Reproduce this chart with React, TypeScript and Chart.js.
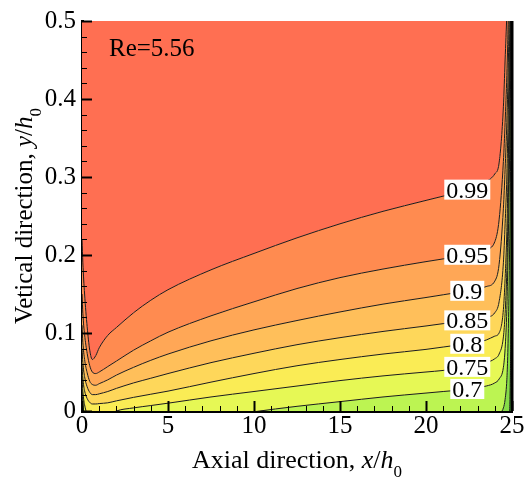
import React, { useEffect, useRef } from "react";
import { Chart, registerables } from "chart.js";

Chart.register(...registerables);

// Shared x grid (x/h0) for all contour lines
const X_GRID = [0, 0.05, 0.15, 0.3, 0.45, 0.6, 0.8, 1, 1.5, 2, 3, 4, 5, 7.5, 10, 12.5, 15, 17.5, 20, 21, 22, 23, 23.5, 24, 24.25, 24.5, 24.6, 24.7, 24.75, 24.8, 24.85, 24.9, 24.95, 25];

// Contour lines y/h0 for each level (values beyond 0.5 or below 0 lie outside the plot)
const Y_060 = [0.006, -0.01, -0.03, -0.04, -0.05, -0.05, -0.05, -0.05, -0.05, -0.05, -0.05, -0.05, -0.05, -0.05, -0.05, -0.05, -0.05, -0.05, -0.05, -0.05, -0.05, -0.05, -0.05, -0.05, -0.05, -0.05, -0.05, -0.05, -0.04, -0.03, -0.01, 0.04, 0.16, 0.55];
const Y_065 = [0.014, -0.002, -0.02, -0.03, -0.04, -0.045, -0.045, -0.045, -0.045, -0.045, -0.045, -0.045, -0.045, -0.04, -0.035, -0.03, -0.025, -0.02, -0.015, -0.013, -0.011, -0.01, -0.008, -0.005, -0.003, 0.004, 0.015, 0.04, 0.07, 0.12, 0.19, 0.28, 0.4, 0.55];
const Y_070 = [0.028, 0.01, -0.008, -0.02, -0.026, -0.029, -0.031, -0.032, -0.032, -0.031, -0.028, -0.023, -0.018, -0.009, -0.001, 0.006, 0.012, 0.018, 0.023, 0.025, 0.027, 0.03, 0.032, 0.036, 0.041, 0.056, 0.08, 0.13, 0.18, 0.24, 0.31, 0.39, 0.48, 0.55];
const Y_075 = [0.045, 0.025, 0.008, -0.004, -0.01, -0.012, -0.012, -0.011, -0.006, 0, 0.004, 0.007, 0.01, 0.018, 0.025, 0.032, 0.039, 0.045, 0.05, 0.052, 0.055, 0.059, 0.062, 0.067, 0.073, 0.095, 0.125, 0.18, 0.23, 0.29, 0.36, 0.44, 0.52, 0.55];
const Y_080 = [0.06, 0.042, 0.026, 0.016, 0.011, 0.009, 0.009, 0.0095, 0.0105, 0.013, 0.0175, 0.0215, 0.0255, 0.037, 0.048, 0.058, 0.066, 0.073, 0.079, 0.082, 0.085, 0.088, 0.091, 0.096, 0.1, 0.13, 0.17, 0.23, 0.28, 0.34, 0.41, 0.48, 0.55, 0.55];
const Y_085 = [0.08, 0.062, 0.044, 0.031, 0.024, 0.021, 0.021, 0.022, 0.025, 0.029, 0.036, 0.042, 0.048, 0.062, 0.074, 0.085, 0.094, 0.102, 0.109, 0.112, 0.115, 0.118, 0.12, 0.126, 0.14, 0.19, 0.24, 0.3, 0.35, 0.4, 0.46, 0.52, 0.55, 0.55];
const Y_090 = [0.11, 0.088, 0.066, 0.049, 0.038, 0.034, 0.033, 0.035, 0.04, 0.046, 0.056, 0.065, 0.073, 0.09, 0.104, 0.116, 0.127, 0.137, 0.1455, 0.149, 0.1525, 0.1565, 0.1595, 0.1665, 0.188, 0.26, 0.31, 0.37, 0.41, 0.46, 0.52, 0.55, 0.55, 0.55];
const Y_095 = [0.15, 0.125, 0.098, 0.074, 0.058, 0.05, 0.048, 0.05, 0.057, 0.064, 0.078, 0.09, 0.101, 0.122, 0.14, 0.157, 0.171, 0.182, 0.1915, 0.195, 0.1985, 0.203, 0.207, 0.217, 0.245, 0.32, 0.37, 0.43, 0.47, 0.52, 0.55, 0.55, 0.55, 0.55];
const Y_099 = [0.22, 0.19, 0.15, 0.108, 0.078, 0.066, 0.071, 0.081, 0.097, 0.107, 0.126, 0.142, 0.1555, 0.181, 0.202, 0.222, 0.24, 0.256, 0.27, 0.2755, 0.281, 0.288, 0.294, 0.304, 0.318, 0.39, 0.45, 0.51, 0.55, 0.55, 0.55, 0.55, 0.55, 0.55];

const LEVELS = [0.6, 0.65, 0.7, 0.75, 0.8, 0.85, 0.9, 0.95, 0.99];
const LEVEL_LABELS = ["", "", "0.7", "0.75", "0.8", "0.85", "0.9", "0.95", "0.99"];
// band colours: below 0.6, 0.6-0.65, ..., 0.95-0.99, above 0.99
const BAND_COLORS = ["#4FC03A", "#86DC48", "#BCF452", "#E6F855", "#FAEC55", "#FED75A", "#FFBF5A", "#FFA756", "#FF8B50", "#FF6F52"];

const X_TICKS = [0, 5, 10, 15, 20, 25];
const Y_TICKS = [0, 0.1, 0.2, 0.3, 0.4, 0.5];
const LABEL_X = 22.4;
const RE_TEXT = "Re=5.56";
const RE_POS = [1.57, 0.455];

const FONT = '"Liberation Serif", "Times New Roman", serif';

function interp(xs: number[], ys: number[], x: number) {
  for (let i = 0; i < xs.length - 1; i++) {
    if (x >= xs[i] && x <= xs[i + 1]) {
      const t = (x - xs[i]) / (xs[i + 1] - xs[i]);
      return ys[i] + t * (ys[i + 1] - ys[i]);
    }
  }
  return ys[ys.length - 1];
}

type Part = { t: string; it?: boolean; sub?: boolean };

function drawRich(ctx: CanvasRenderingContext2D, parts: Part[], cx: number, cy: number, size: number) {
  const subSize = Math.round(size * 0.66);
  const fontOf = (p: Part) => `${p.it ? "italic " : ""}${p.sub ? subSize : size}px ${FONT}`;
  let total = 0;
  const widths = parts.map((p) => {
    ctx.font = fontOf(p);
    const w = ctx.measureText(p.t).width;
    total += w;
    return w;
  });
  let x = cx - total / 2;
  ctx.textAlign = "left";
  ctx.textBaseline = "alphabetic";
  parts.forEach((p, i) => {
    ctx.font = fontOf(p);
    ctx.fillText(p.t, x, cy + (p.sub ? 9 : 0));
    x += widths[i];
  });
}

const contourPlugin = {
  id: "contourDecor",
  afterDatasetsDraw(chart: any) {
    const { ctx, chartArea, scales } = chart;
    const xs = scales.x;
    const ys = scales.y;
    const all = [Y_060, Y_065, Y_070, Y_075, Y_080, Y_085, Y_090, Y_095, Y_099];
    ctx.save();
    // contour labels
    ctx.font = `24px ${FONT}`;
    ctx.textAlign = "center";
    ctx.textBaseline = "alphabetic";
    all.forEach((arr, i) => {
      const lab = LEVEL_LABELS[i];
      if (!lab) return;
      const px = xs.getPixelForValue(LABEL_X);
      const py = ys.getPixelForValue(interp(X_GRID, arr, LABEL_X));
      const w = ctx.measureText(lab).width + 4;
      ctx.fillStyle = "#ffffff";
      ctx.fillRect(px - w / 2, py - 10, w, 20);
      ctx.fillStyle = "#000000";
      ctx.fillText(lab, px, py + 8);
    });
    // Re annotation
    ctx.font = `25px ${FONT}`;
    ctx.textAlign = "left";
    ctx.fillText(RE_TEXT, xs.getPixelForValue(RE_POS[0]), ys.getPixelForValue(RE_POS[1]));

    // inward ticks
    ctx.strokeStyle = "#000";
    for (let k = 0; k <= 25; k++) {
      const major = k % 5 === 0;
      const px = Math.round(xs.getPixelForValue(k)) + 0.5;
      ctx.lineWidth = major ? 2 : 1;
      ctx.beginPath();
      ctx.moveTo(px, chartArea.bottom);
      ctx.lineTo(px, chartArea.bottom - (major ? 10 : 5));
      ctx.stroke();
    }
    for (let k = 0; k <= 25; k++) {
      const v = k * 0.02;
      const major = k % 5 === 0;
      const py = Math.round(ys.getPixelForValue(v)) + 0.5;
      ctx.lineWidth = major ? 2 : 1;
      ctx.beginPath();
      ctx.moveTo(chartArea.left, py);
      ctx.lineTo(chartArea.left + (major ? 10 : 5), py);
      ctx.stroke();
    }
    // right wall
    ctx.lineWidth = 3;
    ctx.beginPath();
    ctx.moveTo(chartArea.right, chartArea.top);
    ctx.lineTo(chartArea.right, chartArea.bottom);
    ctx.stroke();

    // axis titles
    ctx.fillStyle = "#000";
    drawRich(
      ctx,
      [{ t: "Axial direction, " }, { t: "x", it: true }, { t: "/" }, { t: "h", it: true }, { t: "0", sub: true }],
      (chartArea.left + chartArea.right) / 2,
      468,
      26
    );
    ctx.save();
    ctx.translate(32, (chartArea.top + chartArea.bottom) / 2);
    ctx.rotate(-Math.PI / 2);
    drawRich(
      ctx,
      [{ t: "Vetical direction, " }, { t: "y", it: true }, { t: "/" }, { t: "h", it: true }, { t: "0", sub: true }],
      0,
      0,
      25
    );
    ctx.restore();
    ctx.restore();
  },
};

export default function App() {
  const ref = useRef<HTMLCanvasElement>(null);
  useEffect(() => {
    if (!ref.current) return;
    const all = [Y_060, Y_065, Y_070, Y_075, Y_080, Y_085, Y_090, Y_095, Y_099];
    const datasets: any[] = all.map((arr, i) => ({
      label: String(LEVELS[i]),
      data: X_GRID.map((x, j) => ({ x, y: arr[j] })),
      borderColor: "#1a1a1a",
      borderWidth: 1,
      pointRadius: 0,
      cubicInterpolationMode: "monotone",
      backgroundColor: BAND_COLORS[i],
      fill: i === 0 ? "start" : "-1",
    }));
    datasets.push({
      label: "top",
      data: X_GRID.map((x, j) => ({ x, y: Y_099[j] })),
      borderColor: "rgba(0,0,0,0)",
      borderWidth: 0,
      pointRadius: 0,
      cubicInterpolationMode: "monotone",
      backgroundColor: BAND_COLORS[BAND_COLORS.length - 1],
      fill: "end",
    });
    const chart = new Chart(ref.current, {
      type: "line",
      data: { datasets },
      options: {
        animation: false,
        responsive: true,
        maintainAspectRatio: false,
        devicePixelRatio: 1,
        layout: { padding: { top: 16, right: 13, left: 0, bottom: 0 } },
        plugins: {
          legend: { display: false },
          tooltip: { enabled: false },
          filler: { drawTime: "beforeDatasetsDraw", propagate: false },
        },
        scales: {
          x: {
            type: "linear",
            min: 0,
            max: 25,
            afterBuildTicks: (s: any) => {
              s.ticks = X_TICKS.map((v) => ({ value: v }));
            },
            afterFit: (s: any) => {
              s.height = 70;
            },
            ticks: {
              color: "#000",
              font: { family: FONT, size: 25 },
              padding: 0,
              maxRotation: 0,
              autoSkip: false,
              callback: (v: any) => String(v),
            },
            grid: { display: true, drawOnChartArea: false, drawTicks: false },
            border: { display: true, color: "#000", width: 3 },
          },
          y: {
            type: "linear",
            min: 0,
            max: 0.5,
            afterBuildTicks: (s: any) => {
              s.ticks = Y_TICKS.map((v) => ({ value: v }));
            },
            afterFit: (s: any) => {
              s.width = 82;
            },
            ticks: {
              color: "#000",
              font: { family: FONT, size: 25 },
              padding: 6,
              autoSkip: false,
              callback: (v: any) => String(Math.round(Number(v) * 10) / 10),
            },
            grid: { display: true, drawOnChartArea: false, drawTicks: false },
            border: { display: true, color: "#000", width: 3 },
          },
        },
      },
      plugins: [contourPlugin],
    });
    return () => chart.destroy();
  }, []);
  return (
    <div style={{ position: "fixed", left: 0, top: 0, width: 525, height: 481, background: "#fff" }}>
      <canvas ref={ref} />
    </div>
  );
}
